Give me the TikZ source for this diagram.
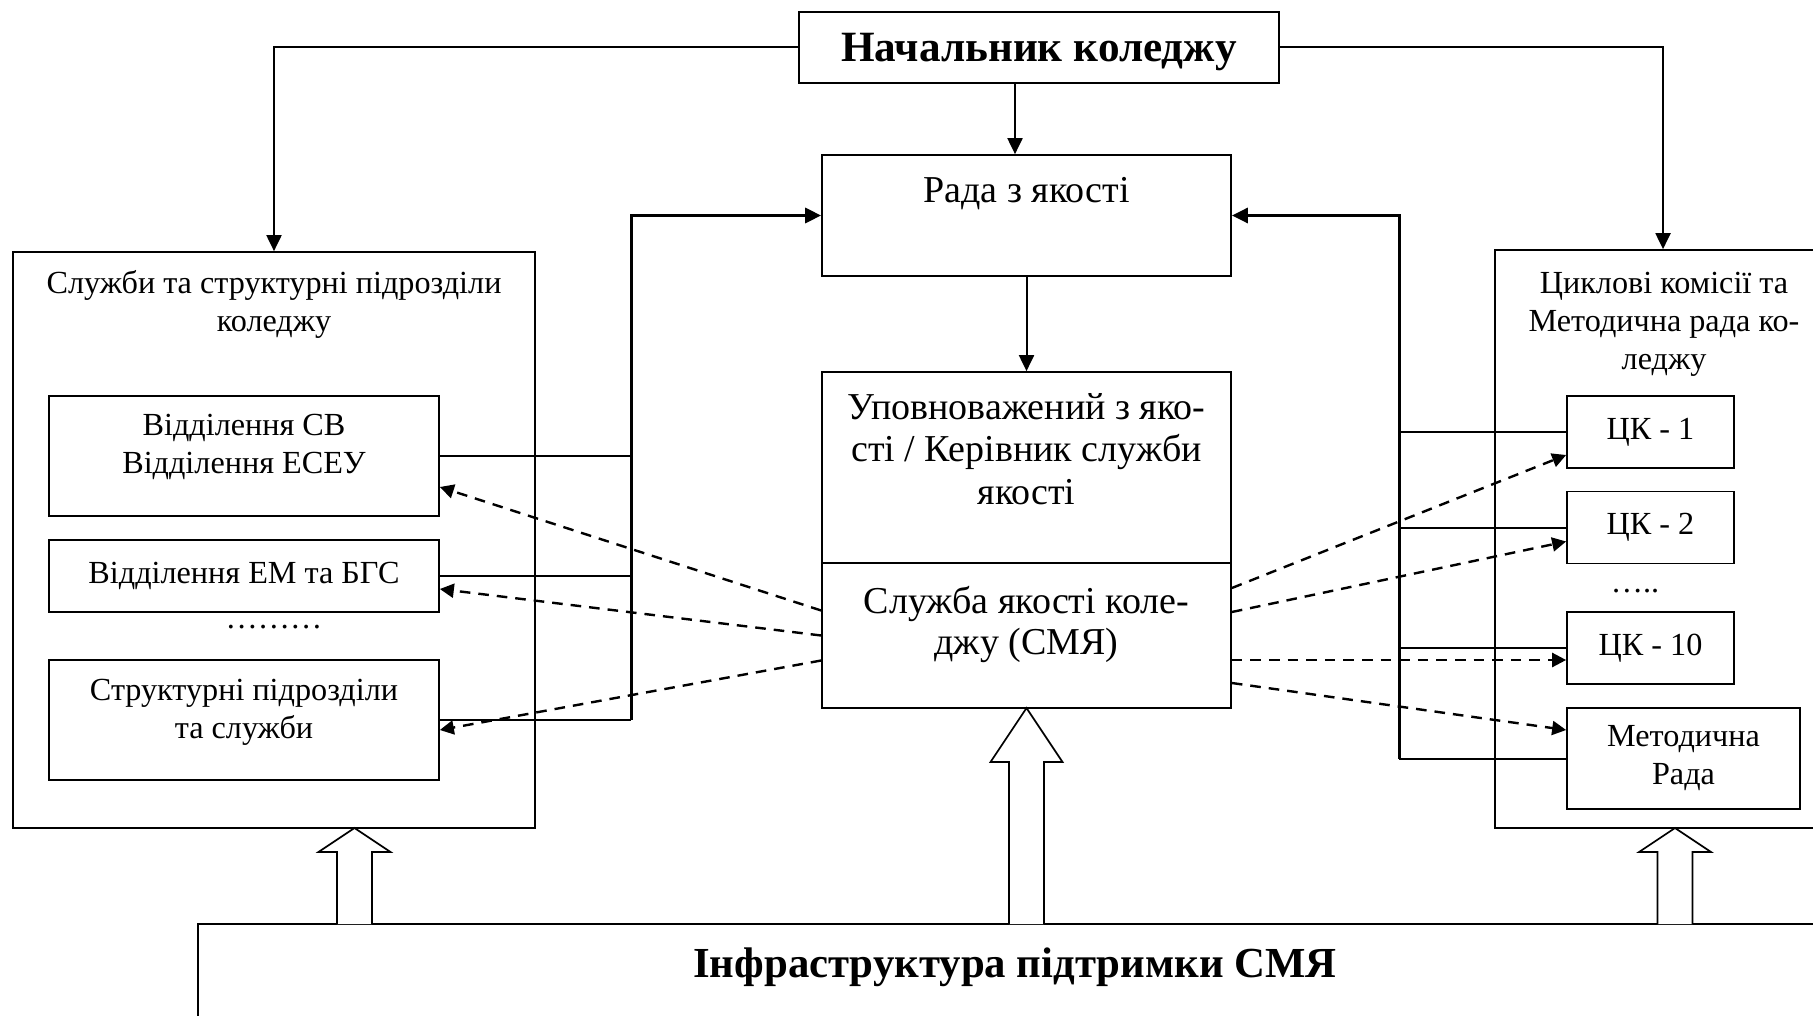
\documentclass[tikz,border=0pt]{standalone}
\usepackage{fontspec}
\setmainfont{Liberation Serif}
\usetikzlibrary{arrows.meta,calc}
\tikzstyle{box}=[draw,rectangle,line width=0.85pt,inner sep=0pt]
\tikzstyle{txt}=[font=\fontsize{16.1}{19}\selectfont,align=center,inner sep=0pt]
\tikzstyle{ctxt}=[font=\fontsize{19}{21.4}\selectfont,align=center,inner sep=0pt]
\tikzstyle{head}=[font=\fontsize{21.6}{26}\selectfont\bfseries,align=center,inner sep=0pt]
\tikzstyle{edge}=[draw,line width=1pt,-{Triangle[length=8pt,width=7.5pt]}]
\tikzstyle{bus}=[draw,line width=1pt]
\tikzstyle{bus edge}=[draw,line width=1.5pt,-{Triangle[length=8pt,width=7.5pt]}]
\tikzstyle{report edge}=[draw,line width=1.2pt,dash pattern=on 5.3pt off 4pt,-{Triangle[length=7pt,width=7pt]}]
\tikzstyle{hollow}=[draw,line width=0.85pt,fill=white]

\begin{document}
\begin{tikzpicture}[x=0.5pt,y=-0.5pt]
\useasboundingbox (0,0) rectangle (1813,1016);

% First we draw the boxes of the centre
\node[box,head,text depth=0pt,minimum width=240pt,minimum height=35.5pt] (boss) at (1039,47.5) {Начальник коледжу};
\node[box,minimum width=204.5pt,minimum height=60.5pt] (rada) at (1026.5,215.5) {};
\node[ctxt,anchor=base] (rada-txt) at (1026.5,203) {Рада з якості};
\node[box,minimum width=204.5pt,minimum height=95.5pt] (upov) at (1026.5,467.5) {};
\node[ctxt] (upov-txt) at (1026.5,449) {Уповноважений з яко-\\сті / Керівник служби\\якості};
\node[box,minimum width=204.5pt,minimum height=72.5pt] (smya) at (1026.5,635.5) {};
\node[ctxt,font=\fontsize{19}{20.5}\selectfont] (smya-txt) at (1026.5,624) {Служба якості коле-\\джу (СМЯ)};

% Services and departments on the left
\node[box,minimum width=261pt,minimum height=288pt] (units) at (274,540) {};
\node[txt] (units-txt) at (274,304) {Служби та структурні підрозділи\\коледжу};
\node[box,minimum width=195pt,minimum height=60pt] (sv) at (244,456) {};
\node[txt] (sv-txt) at (244,447) {Відділення СВ\\Відділення ЕСЕУ};
\node[box,txt,minimum width=195pt,minimum height=36pt] (em) at (244,576) {Відділення ЕМ та БГС};
\node[txt] (dots-l) at (274,627) {………};
\node[box,minimum width=195pt,minimum height=60pt] (str) at (244,720) {};
\node[txt] (str-txt) at (244,712) {Структурні підрозділи\\та служби};

% Cycle commissions on the right
\node[box,minimum width=168pt,minimum height=289pt] (cycles) at (1663,539) {};
\node[txt] (cycles-txt) at (1664,324) {Циклові комісії та\\Методична рада ко-\\леджу};
\foreach \name/\y/\lbl in {ck1/432/1, ck2/527.5/2, ck10/648/10}
  \node[box,txt,minimum width=83.5pt,minimum height=36pt] (\name) at (1650.5,\y) {ЦК - \lbl};
\node[txt] (dots-r) at (1635,591) {…..};
\node[box,txt,minimum width=116.5pt,minimum height=50.5pt] (metod) at (1683.5,758.5) {Методична\\Рада};

% Support infrastructure at the bottom
\node[box,minimum width=826pt,minimum height=68pt] (infra) at (1024,992) {};
\node[head,font=\fontsize{21.4}{26}\selectfont\bfseries,anchor=base] (infra-txt) at (1015,977) {Інфраструктура підтримки СМЯ};

% Lines from the head of the college
\draw[edge] (boss.west) -| (units.north);
\draw[edge] (boss.east) -| (cycles.north);
\draw[edge] ($(boss.south)+(-24,0)$) coordinate (b1) -- (b1 |- rada.north);
\draw[edge] (rada.south) -- (upov.north);

% Buses towards the quality council
\coordinate (lbus) at (631,215.5);
\coordinate (rbus) at (1399,215.5);
\foreach \name in {sv, em, str}
  \path[bus] (\name.east) -- (\name.east -| lbus);
\path[bus edge] (lbus |- str.east) -- (lbus) -- (rada.west);
\foreach \name in {ck1, ck2, ck10, metod}
  \path[bus] (\name.west) -- (\name.west -| rbus);
\path[bus edge] (rbus |- metod.west) -- (rbus) -- (rada.east);

% Dashed arrows from the quality service
\foreach \dest/\from/\to in {sv/-25/31, em/0/13, str/25/10}
  \path[report edge] ($(smya.west)+(0,\from)$) -- ($(\dest.east)+(0,\to)$);
\foreach \dest/\from/\to in {ck1/-47.5/23, ck2/-23.5/14, ck10/24.5/12, metod/47.5/-28.5}
  \path[report edge] ($(smya.east)+(0,\from)$) -- ($(\dest.west)+(0,\to)$);

% Hollow arrows from the infrastructure
\foreach \cx/\tip/\base in {354.5/828/852, 1026.5/708/762, 1675/828/852}
  \draw[hollow] (\cx-17.5,924) -- (\cx-17.5,\base) -- (\cx-36,\base) -- (\cx,\tip)
    -- (\cx+36,\base) -- (\cx+17.5,\base) -- (\cx+17.5,924);
\end{tikzpicture}
\end{document}
